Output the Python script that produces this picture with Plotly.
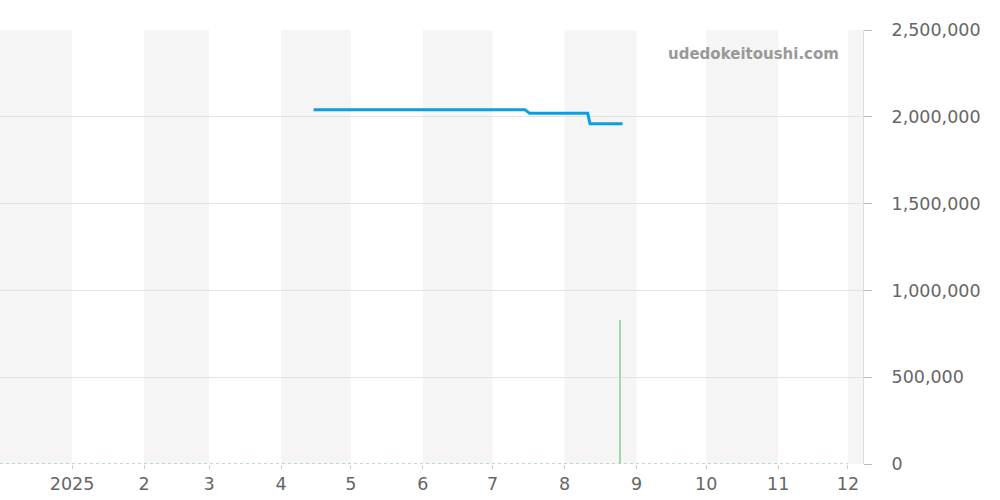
import plotly.graph_objects as go

# Price series (change points)
price_dates = ["2025-04-15", "2025-07-15", "2025-07-17", "2025-08-11", "2025-08-12", "2025-08-26"]
price_values = [2040000, 2040000, 2020000, 2020000, 1960000, 1960000]

# Volume bars
volume_dates = ["2025-08-25"]
volume_values = [830000]

# Baseline of tiny volume marks
baseline_dates = ["2024-12-01", "2025-12-01"]
baseline_values = [0, 0]

# Axis ticks
tick_dates = ["2025-01-01", "2025-02-01", "2025-03-01", "2025-04-01", "2025-05-01", "2025-06-01",
              "2025-07-01", "2025-08-01", "2025-09-01", "2025-10-01", "2025-11-01", "2025-12-01"]
tick_labels = ["2025", "2", "3", "4", "5", "6", "7", "8", "9", "10", "11", "12"]

# Shaded months (start, end)
band_starts = ["2024-12-01", "2025-02-01", "2025-04-01", "2025-06-01", "2025-08-01", "2025-10-01", "2025-12-01"]
band_ends = ["2025-01-01", "2025-03-01", "2025-05-01", "2025-07-01", "2025-09-01", "2025-11-01", "2026-01-01"]

fig = go.Figure()

fig.add_trace(go.Scatter(x=baseline_dates, y=baseline_values, mode="lines",
                         line=dict(color="#a5d6a7", width=1.5, dash="dot"),
                         hoverinfo="skip", showlegend=False))
fig.add_trace(go.Bar(x=volume_dates, y=volume_values, marker=dict(color="#a5d6a7", line=dict(width=0)),
                     width=86400000 * 0.9, showlegend=False))
fig.add_trace(go.Scatter(x=price_dates, y=price_values, mode="lines",
                         line=dict(color="#0d9de2", width=3), showlegend=False))

shapes = []
for s, e in zip(band_starts, band_ends):
    shapes.append(dict(type="rect", xref="x", yref="paper", x0=s, x1=e, y0=0, y1=1,
                       fillcolor="#f5f5f5", line=dict(width=0), layer="below"))

fig.update_layout(
    width=1000, height=500,
    margin=dict(l=0, r=137, t=30, b=36),
    paper_bgcolor="white", plot_bgcolor="white",
    shapes=shapes,
    font=dict(family="DejaVu Sans", color="#666666", size=17.5),
    xaxis=dict(type="date", range=["2024-12-01", "2025-12-07 12:00"],
               tickvals=tick_dates, ticktext=tick_labels,
               ticks="outside", ticklen=4, tickcolor="#cccccc",
               showgrid=False, zeroline=False, showline=False,
               tickfont=dict(size=17.5, color="#666666")),
    yaxis=dict(side="right", range=[0, 2500000], dtick=500000, tickformat=",",
               showgrid=True, gridcolor="#e2e2e2", zeroline=False,
               showline=True, linecolor="#dddddd", mirror=False,
               ticks="outside", ticklen=8, tickcolor="#bbbbbb",
               ticklabelstandoff=16,
               tickfont=dict(size=17.5, color="#666666")),
    annotations=[dict(text="<b>udedokeitoushi.com</b>", xref="paper", yref="paper",
                      x=0.975, y=0.97, xanchor="right", yanchor="top", showarrow=False,
                      font=dict(size=15, color="#999999", family="DejaVu Sans"))],
    bargap=0,
)

fig.write_html("out.html", config={"displayModeBar": False},
               post_script="document.body.style.margin='0';")
